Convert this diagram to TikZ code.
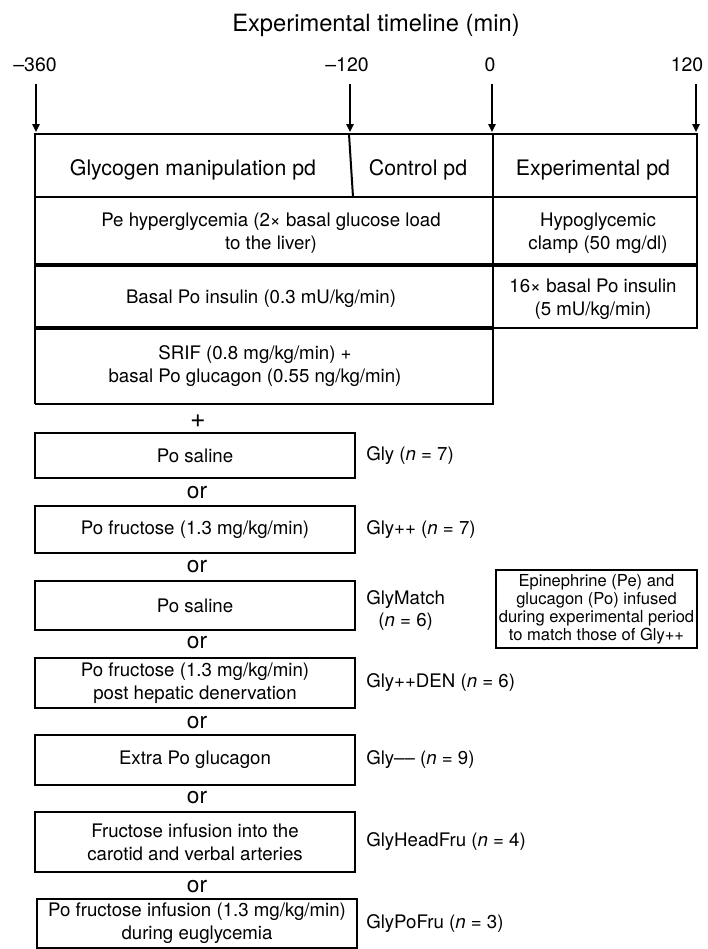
\documentclass[tikz,border=0pt]{standalone}
\usepackage{fontspec}
\setmainfont{TeX Gyre Heros}
\usetikzlibrary{arrows.meta}

\begin{document}
\begin{tikzpicture}[x=0.75pt, y=-0.75pt,
    txt/.style={font=\fontsize{14}{17}\selectfont, align=center, inner sep=0pt},
    head/.style={txt, font=\fontsize{16}{19}\selectfont},
    joiner/.style={txt, font=\fontsize{17}{20}\selectfont},
    rule/.style={line width=1.5pt},
    heavy/.style={line width=3pt},
    optbox/.style={txt, draw, line width=1.5pt, minimum width=240pt},
    note/.style={draw, line width=1.2pt, minimum width=150.75pt, minimum height=58.5pt,
      align=center, inner sep=0pt, font=\fontsize{12.4}{13.5}\selectfont},
    tick/.style={-{Triangle[length=6pt,width=5.5pt]}, line width=1.1pt}]

  \useasboundingbox (0,0) rectangle (707,949);

  % timeline
  \node[font=\fontsize{17.8}{20}\selectfont, anchor=base] (title) at (376,32) {Experimental timeline (min)};
  \foreach \lab/\lx/\ax [count=\i] in {\textendash360/35/36, \textendash120/347/350, 0/490/492, 120/687/696}{
    \node[font=\fontsize{14.6}{16}\selectfont] (lab-\i) at (\lx,65) {\lab};
    \coordinate (arr-\i) at (\ax,84);
    \coordinate (top-\i) at (\ax,132);
    \draw[tick] (arr-\i) -- (top-\i);
  }

  % periods table
  \draw[rule] (35,404) -- (35,134) -- (697,134) -- (697,328) -- (493,328);
  \draw[rule] (35,404) -- (493,404) -- (493,134);
  \draw[rule] (35,197) -- (697,197);
  \draw[rule] (349,134) -- (353,197);
  \draw[heavy] (35,265) -- (697,265);
  \draw[heavy] (35,328) -- (493,328);

  \node[head] (glyc) at (193,170) {Glycogen manipulation pd};
  \node[head] (ctrl) at (418,170) {Control pd};
  \node[head] (expt) at (593,170) {Experimental pd};
  \node[txt] (hyper) at (271,233) {Pe hyperglycemia (2× basal glucose load\\to the liver)};
  \node[txt] (clamp) at (598,233) {Hypoglycemic\\clamp (50 mg/dl)};
  \node[txt] (insb) at (261,299) {Basal Po insulin (0.3 mU/kg/min)};
  \node[txt] (ins16) at (593,299) {16× basal Po insulin\\(5 mU/kg/min)};
  \node[txt] (srif) at (255,366) {SRIF (0.8 mg/kg/min) +\\basal Po glucagon (0.55 ng/kg/min)};

  % protocol groups
  \node[joiner, font=\fontsize{20}{22}\selectfont] (plus) at (198,421) {+};
  \foreach \yt/\yb/\dx/\dy/\body/\grp [count=\k, evaluate=\yt as \yc using (\yt+\yb)/2,
      evaluate=\yb as \h using (\yb-\yt)*0.75] in {
    433/478/0/0/{Po saline}/{Gly (\textit{n} = 7)},
    506/553/0/0/{Po fructose (1.3 mg/kg/min)}/{Gly++ (\textit{n} = 7)},
    581/630/0/5/{Po saline}/{GlyMatch\\(\textit{n} = 6)},
    658/708/0/0/{Po fructose (1.3 mg/kg/min)\\post hepatic denervation}/{Gly++DEN (\textit{n} = 6)},
    735/785/0/0/{Extra Po glucagon}/{Gly\textendash\textendash{} (\textit{n} = 9)},
    812/872/0/0/{Fructose infusion into the\\carotid and verbal arteries}/{GlyHeadFru (\textit{n} = 4)},
    899/948/2/0/{Po fructose infusion (1.3 mg/kg/min)\\during euglycemia}/{GlyPoFru (\textit{n} = 3)}}{
    \node[optbox, minimum height=\h pt] (opt-\k) at (195+\dx,\yc) {\body};
    \node[txt, anchor=west] (grp-\k) at ([xshift=7.5pt-\dx*0.75pt, yshift=-\dy*0.75pt]opt-\k.east) {\grp};
  }
  \foreach \y [count=\k] in {493,567,643,723,798,887}
    \node[joiner] (or-\k) at (197,\y) {or};

  \node[note] (match) at (596.5,609) {Epinephrine (Pe) and\\glucagon (Po) infused\\during experimental period\\to match those of Gly++};
\end{tikzpicture}
\end{document}
